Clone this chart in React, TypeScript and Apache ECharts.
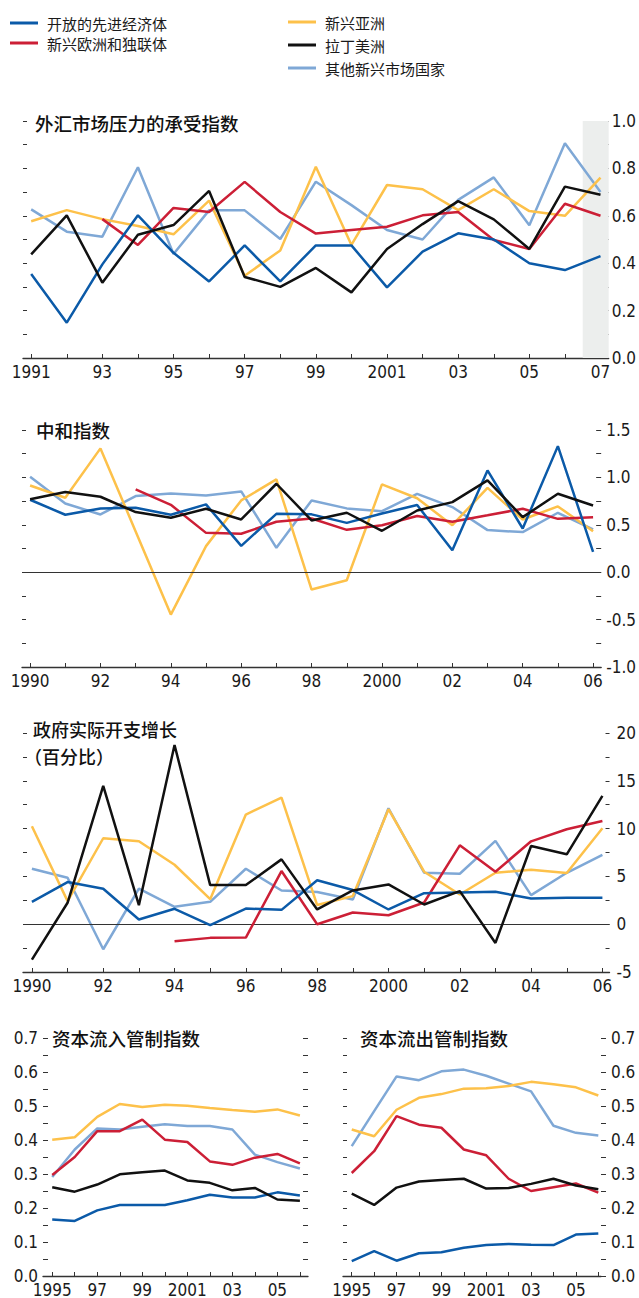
import React, { useEffect, useRef } from 'react';
import * as echarts from 'echarts';

// ---------- legend / series ----------
const SERIES_NAMES = ['开放的先进经济体', '新兴欧洲和独联体', '新兴亚洲', '拉丁美洲', '其他新兴市场国家'];
const COLORS = ['#0b5aa8', '#cc1f36', '#fdc14a', '#111111', '#7fa8d6'];
const DRAW_ORDER = [4, 2, 1, 0, 3];

// ---------- Panel 1: 外汇市场压力的承受指数 ----------
const fxYears = [1991, 1992, 1993, 1994, 1995, 1996, 1997, 1998, 1999, 2000, 2001, 2002, 2003, 2004, 2005, 2006, 2007];
const fxAdvanced = [0.354, 0.149, 0.395, 0.602, 0.444, 0.323, 0.475, 0.323, 0.475, 0.475, 0.298, 0.449, 0.526, 0.50, 0.40, 0.371, 0.43];
const fxEurope = [null, null, 0.586, 0.477, 0.633, 0.616, 0.743, 0.616, 0.525, 0.54, 0.554, 0.602, 0.616, 0.498, 0.46, 0.651, 0.60];
const fxAsia = [0.577, 0.624, 0.586, 0.557, 0.522, 0.664, 0.347, 0.454, 0.807, 0.477, 0.73, 0.712, 0.624, 0.712, 0.62, 0.60, 0.761];
const fxLatAm = [0.437, 0.602, 0.318, 0.52, 0.561, 0.705, 0.342, 0.30, 0.38, 0.277, 0.46, 0.565, 0.662, 0.585, 0.46, 0.723, 0.689];
const fxOther = [0.627, 0.533, 0.512, 0.805, 0.439, 0.623, 0.623, 0.502, 0.744, 0.645, 0.54, 0.50, 0.667, 0.762, 0.56, 0.906, 0.70];
const fxLabelYears = [1991, 1993, 1995, 1997, 1999, 2001, 2003, 2005, 2007];
const fxTickLabels = ['1991', '93', '95', '97', '99', '2001', '03', '05', '07'];
const fxShadeFrom = 2006.5;

// ---------- Panel 2: 中和指数 ----------
const stYears = [1990, 1991, 1992, 1993, 1994, 1995, 1996, 1997, 1998, 1999, 2000, 2001, 2002, 2003, 2004, 2005, 2006];
const stAdvanced = [0.764, 0.606, 0.673, 0.68, 0.606, 0.715, 0.278, 0.616, 0.61, 0.52, 0.62, 0.708, 0.232, 1.074, 0.461, 1.33, 0.215];
const stEurope = [null, null, null, 0.873, 0.711, 0.415, 0.405, 0.532, 0.567, 0.447, 0.496, 0.592, 0.532, 0.60, 0.669, 0.563, 0.58];
const stAsia = [0.915, 0.785, 1.306, 0.43, -0.447, 0.275, 0.757, 0.979, -0.183, -0.085, 0.926, 0.78, 0.496, 0.89, 0.556, 0.694, 0.433];
const stLatAm = [0.77, 0.845, 0.796, 0.634, 0.574, 0.669, 0.556, 0.933, 0.546, 0.627, 0.437, 0.651, 0.739, 0.968, 0.581, 0.827, 0.704];
const stOther = [1.007, 0.725, 0.609, 0.803, 0.831, 0.81, 0.852, 0.257, 0.757, 0.673, 0.644, 0.827, 0.687, 0.444, 0.423, 0.627, 0.451];
const stLabelYears = [1990, 1992, 1994, 1996, 1998, 2000, 2002, 2004, 2006];
const stTickLabels = ['1990', '92', '94', '96', '98', '2000', '02', '04', '06'];

// ---------- Panel 3: 政府实际开支增长（百分比） ----------
const gvYears = [1990, 1991, 1992, 1993, 1994, 1995, 1996, 1997, 1998, 1999, 2000, 2001, 2002, 2003, 2004, 2005, 2006];
const gvAdvanced = [2.34, 4.41, 3.71, 0.49, 1.61, -0.1, 1.64, 1.5, 4.6, 3.57, 1.54, 3.25, 3.32, 3.39, 2.69, 2.76, 2.76];
const gvEurope = [null, null, null, null, -1.78, -1.43, -1.4, 5.56, 0.0, 1.22, 0.94, 2.27, 8.25, 5.49, 8.67, 9.93, 10.8];
const gvAsia = [10.24, 2.41, 8.99, 8.67, 6.22, 2.62, 11.47, 13.25, 2.0, 2.94, 12.03, 5.49, 3.11, 5.38, 5.7, 5.35, 10.03];
const gvLatAm = [-3.71, 2.24, 14.48, 1.99, 18.74, 4.09, 4.09, 6.78, 1.54, 3.53, 4.16, 2.06, 3.46, -1.96, 8.18, 7.31, 13.43];
const gvOther = [5.8, 4.86, -2.62, 3.71, 1.82, 2.34, 5.8, 3.53, 3.36, 2.59, 12.13, 5.38, 5.28, 8.71, 3.04, 5.38, 7.24];
const gvLabelYears = [1990, 1992, 1994, 1996, 1998, 2000, 2002, 2004, 2006];
const gvTickLabels = ['1990', '92', '94', '96', '98', '2000', '02', '04', '06'];

// ---------- Panel 4: 资本流入管制指数 ----------
const ciYears = [1995, 1996, 1997, 1998, 1999, 2000, 2001, 2002, 2003, 2004, 2005, 2006];
const ciAdvanced = [0.166, 0.162, 0.193, 0.209, 0.209, 0.209, 0.223, 0.239, 0.231, 0.231, 0.246, 0.237];
const ciEurope = [0.297, 0.35, 0.426, 0.426, 0.46, 0.401, 0.394, 0.337, 0.327, 0.348, 0.359, 0.331];
const ciAsia = [0.401, 0.408, 0.468, 0.506, 0.497, 0.504, 0.501, 0.494, 0.488, 0.483, 0.49, 0.472];
const ciLatAm = [0.261, 0.248, 0.269, 0.299, 0.305, 0.31, 0.281, 0.274, 0.252, 0.259, 0.225, 0.221];
const ciOther = [0.291, 0.372, 0.434, 0.431, 0.439, 0.446, 0.441, 0.441, 0.431, 0.357, 0.335, 0.316];

// ---------- Panel 5: 资本流出管制指数 ----------
const coYears = [1995, 1996, 1997, 1998, 1999, 2000, 2001, 2002, 2003, 2004, 2005, 2006];
const coAdvanced = [0.044, 0.073, 0.045, 0.067, 0.07, 0.083, 0.091, 0.094, 0.092, 0.091, 0.122, 0.125];
const coEurope = [0.303, 0.367, 0.47, 0.445, 0.436, 0.372, 0.355, 0.286, 0.25, 0.261, 0.272, 0.245];
const coAsia = [0.431, 0.411, 0.489, 0.524, 0.535, 0.551, 0.552, 0.559, 0.571, 0.564, 0.555, 0.531];
const coLatAm = [0.242, 0.209, 0.26, 0.278, 0.282, 0.286, 0.257, 0.259, 0.271, 0.286, 0.266, 0.255];
const coOther = [0.382, 0.485, 0.587, 0.576, 0.602, 0.607, 0.589, 0.566, 0.543, 0.442, 0.421, 0.413];
const capLabelYears = [1995, 1997, 1999, 2001, 2003, 2005];
const capTickLabels = ['1995', '97', '99', '2001', '03', '05'];

const TITLES = ['外汇市场压力的承受指数', '中和指数', '政府实际开支增长', '（百分比）', '资本流入管制指数', '资本流出管制指数'];

const NUM_FONT = "'Liberation Sans Narrow', 'Arial Narrow', 'DejaVu Sans Condensed', 'Liberation Sans', sans-serif";
const CJK_FONT = "'Noto Sans CJK SC', 'Noto Sans', sans-serif";
const AXIS_COLOR = '#333333';
const TEXT_COLOR = '#1a1a1a';

export default function App() {
  const ref = useRef<HTMLDivElement>(null);

  useEffect(() => {
    if (!ref.current) return;
    const chart = echarts.init(ref.current, null, { renderer: 'svg' });

    const panels = [
      { years: fxYears, vals: [fxAdvanced, fxEurope, fxAsia, fxLatAm, fxOther] },
      { years: stYears, vals: [stAdvanced, stEurope, stAsia, stLatAm, stOther] },
      { years: gvYears, vals: [gvAdvanced, gvEurope, gvAsia, gvLatAm, gvOther] },
      { years: ciYears, vals: [ciAdvanced, ciEurope, ciAsia, ciLatAm, ciOther] },
      { years: coYears, vals: [coAdvanced, coEurope, coAsia, coLatAm, coOther] },
    ];

    const grids = [
      { left: 23, top: 121, width: 587, height: 237 },
      { left: 22, top: 430, width: 583, height: 237 },
      { left: 23, top: 733, width: 590, height: 239 },
      { left: 43, top: 1038, width: 265, height: 239 },
      { left: 343, top: 1038, width: 258, height: 239 },
    ];

    const xRanges = [
      [1990.77, 2007.23],
      [1989.77, 2006.23],
      [1989.75, 2006.2],
      [1994.59, 2006.36],
      [1994.61, 2006.12],
    ];
    const xLabelSets = [
      [fxLabelYears, fxTickLabels],
      [stLabelYears, stTickLabels],
      [gvLabelYears, gvTickLabels],
      [capLabelYears, capTickLabels],
      [capLabelYears, capTickLabels],
    ];

    const xAxis = panels.map((p, i) => {
      const [ly, lt] = xLabelSets[i] as [number[], string[]];
      return {
        type: 'value',
        gridIndex: i,
        min: xRanges[i][0],
        max: xRanges[i][1],
        splitLine: { show: false },
        axisLine: { show: true, onZero: false, lineStyle: { color: AXIS_COLOR, width: 1.3 } },
        axisTick: { show: true, inside: true, length: 4, customValues: p.years, lineStyle: { color: AXIS_COLOR, width: 1 } },
        axisLabel: {
          show: true,
          customValues: ly,
          margin: 5,
          fontFamily: NUM_FONT,
          fontSize: 17,
          color: TEXT_COLOR,
          formatter: (v: number) => {
            const k = ly.indexOf(Math.round(v));
            return k >= 0 ? lt[k] : '';
          },
        },
      };
    });

    const fmtEvery = (step: number, digits: number) => (v: number) => {
      const r = Math.round(v / step);
      if (Math.abs(v / step - r) > 1e-6) return '';
      return r === 0 ? (0).toFixed(digits) : v.toFixed(digits);
    };

    const yDefs = [
      { min: 0, max: 1, interval: 0.1, step: 0.2, digits: 1 },
      { min: -1, max: 1.5, interval: 0.25, step: 0.5, digits: 1 },
      { min: -5, max: 20, interval: 2.5, step: 5, digits: 0 },
      { min: 0, max: 0.7, interval: 0.05, step: 0.1, digits: 1 },
      { min: 0, max: 0.7, interval: 0.05, step: 0.1, digits: 1 },
    ];
    const labelSide = ['right', 'right', 'right', 'left', 'right'];
    const tickConf = [
      { left: { inside: true, len: 4 }, right: { inside: true, len: 5, margin: 3 } },
      { left: { inside: true, len: 4 }, right: { inside: true, len: 5, margin: 5 } },
      { left: { inside: true, len: 4 }, right: { inside: true, len: 4, margin: 7 } },
      { left: { inside: true, len: 5, margin: 5 }, right: { inside: true, len: 5 } },
      { left: { inside: true, len: 4 }, right: { inside: false, len: 5, margin: 10 } },
    ];

    const yAxis: any[] = [];
    const labeledIdx: number[] = [];
    yDefs.forEach((d, i) => {
      (['left', 'right'] as const).forEach((side) => {
        const conf = (tickConf[i] as any)[side];
        const labeled = labelSide[i] === side;
        if (labeled) labeledIdx[i] = yAxis.length;
        yAxis.push({
          type: 'value',
          gridIndex: i,
          position: side,
          min: d.min,
          max: d.max,
          interval: d.interval,
          splitLine: { show: false },
          axisLine: { show: false },
          axisTick: { show: true, inside: conf.inside, length: conf.len, lineStyle: { color: AXIS_COLOR, width: 1 } },
          axisLabel: labeled
            ? {
                show: true,
                margin: conf.margin,
                fontFamily: NUM_FONT,
                fontSize: 17,
                color: TEXT_COLOR,
                formatter: fmtEvery(d.step, d.digits),
              }
            : { show: false },
        });
      });
    });

    const series: any[] = [];
    series.push({
      type: 'line',
      name: 'shade',
      xAxisIndex: 0,
      yAxisIndex: labeledIdx[0],
      data: [],
      z: 0,
      silent: true,
      markArea: {
        silent: true,
        itemStyle: { color: '#eceeed' },
        label: { show: false },
        data: [[{ xAxis: fxShadeFrom }, { xAxis: xRanges[0][1] }]],
      },
    });
    [1, 2].forEach((pi) => {
      series.push({
        type: 'line',
        name: 'zero' + pi,
        xAxisIndex: pi,
        yAxisIndex: labeledIdx[pi],
        data: [],
        z: 1,
        silent: true,
        markLine: {
          silent: true,
          symbol: 'none',
          label: { show: false },
          lineStyle: { color: '#333333', width: 1, type: 'solid' },
          data: [{ yAxis: 0 }],
        },
      });
    });

    panels.forEach((p, pi) => {
      DRAW_ORDER.forEach((si, order) => {
        series.push({
          type: 'line',
          name: SERIES_NAMES[si],
          xAxisIndex: pi,
          yAxisIndex: labeledIdx[pi],
          data: p.years.map((yr, k) => [yr, p.vals[si][k]]),
          showSymbol: false,
          symbol: 'none',
          connectNulls: false,
          color: COLORS[si],
          lineStyle: { color: COLORS[si], width: 2.5 },
          z: 3 + order,
        });
      });
    });

    const legendText = { fontSize: 15, lineHeight: 16, fontFamily: CJK_FONT, color: TEXT_COLOR, padding: [0, 0, 0, 4] };
    const titleStyle = { fontSize: 18.5, fontWeight: 500, lineHeight: 18, fontFamily: CJK_FONT, color: '#111111' };
    const titleStyle3 = { ...titleStyle, fontSize: 18 };

    chart.setOption({
      animation: false,
      backgroundColor: '#ffffff',
      legend: [
        {
          left: 10, top: 15, orient: 'vertical', icon: 'rect', itemWidth: 28, itemHeight: 3, itemGap: 4,
          selectedMode: false, padding: 0, textStyle: legendText,
          data: [SERIES_NAMES[0], SERIES_NAMES[1]],
        },
        {
          left: 288, top: 14, orient: 'vertical', icon: 'rect', itemWidth: 28, itemHeight: 3, itemGap: 7,
          selectedMode: false, padding: 0, textStyle: legendText,
          data: [SERIES_NAMES[2], SERIES_NAMES[3], SERIES_NAMES[4]],
        },
      ],
      title: [
        { text: TITLES[0], left: 35, top: 114, padding: 0, textStyle: titleStyle },
        { text: TITLES[1], left: 36, top: 421, padding: 0, textStyle: titleStyle },
        { text: TITLES[2], left: 33, top: 720, padding: 0, textStyle: titleStyle3 },
        { text: TITLES[3], left: 24, top: 747, padding: 0, textStyle: titleStyle3 },
        { text: TITLES[4], left: 52, top: 1029, padding: 0, textStyle: titleStyle },
        { text: TITLES[5], left: 360, top: 1029, padding: 0, textStyle: titleStyle },
      ],
      grid: grids,
      xAxis,
      yAxis,
      series,
    });

    return () => chart.dispose();
  }, []);

  return (
    <div
      ref={ref}
      style={{ position: 'absolute', left: 0, top: 0, width: 639, height: 1298, background: '#ffffff' }}
    />
  );
}
